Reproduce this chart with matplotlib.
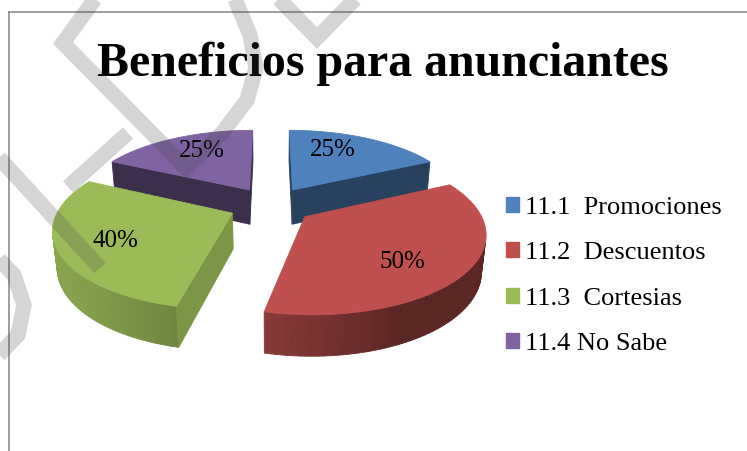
import numpy as np
import matplotlib
matplotlib.use('Agg')
import matplotlib.pyplot as plt
from matplotlib.patches import Polygon, Patch
import matplotlib.colors as mcolors

# datos del grafico
titulo = 'Beneficios para anunciantes'
categorias = ['11.1  Promociones', '11.2  Descuentos', '11.3  Cortesias', '11.4 No Sabe']
valores = [25, 50, 40, 25]
etiquetas = ['25%', '50%', '40%', '25%']
colores = ['#4F81BD', '#C0504D', '#9BBB59', '#8064A2']
k_radial = [0.50, 0.62, 0.80, 0.47]   # tono de las caras laterales rectas
giro_etq = [8, -8, 3, -4]             # ajuste angular de las etiquetas (grados)

# geometria del pastel 3D (pixeles)
cx, cy = 271, 205
R = 172.0
elev = np.radians(26)
D = 855.0
h = 40.0
expl = 42.0
fuente = 'Liberation Serif'


def proj(X, Y, Z):
  v = Y*np.sin(elev) + Z*np.cos(elev)
  w = Y*np.cos(elev) - Z*np.sin(elev)
  f = D/(D + w)
  return (cx + X*f, cy - v*f)


def area(pts):
  # area con signo, eje y hacia arriba
  p = np.array(pts)
  x, y = p[:, 0], -p[:, 1]
  return 0.5*np.sum(x*np.roll(y, -1) - np.roll(x, -1)*y)


def tono(c, k):
  r, g, b = mcolors.to_rgb(c)
  return (min(r*k, 1), min(g*k, 1), min(b*k, 1))


fig = plt.figure(figsize=(7.47, 4.51), dpi=100)
ax = fig.add_axes([0, 0, 1, 1])
ax.set_xlim(0, 747)
ax.set_ylim(451, 0)
ax.axis('off')

# marco del area de grafico
ax.plot([9, 747], [12, 12], color='#8c8c8c', lw=1.2)
ax.plot([9, 9], [12, 451], color='#8c8c8c', lw=1.2)

ax.text(383, 64, titulo, ha='center', va='center', fontsize=34.5,
        fontweight='bold', family=fuente)

total = float(sum(valores))
inicio = 90.0
porciones = []
for i, val in enumerate(valores):
  ang = 360.0*val/total
  th_hi = np.radians(inicio)
  th_lo = np.radians(inicio - ang)
  inicio -= ang
  mid = 0.5*(th_lo + th_hi)
  ox, oy = expl*np.cos(mid), expl*np.sin(mid)
  porciones.append((oy, i, th_lo, th_hi, mid, ox, oy))

# de atras hacia adelante
porciones.sort(key=lambda p: -p[0])

for _, i, th_lo, th_hi, mid, ox, oy in porciones:
  col = colores[i]
  arco = np.linspace(th_lo, th_hi, 80)
  rt = lambda a: proj(ox + R*np.cos(a), oy + R*np.sin(a), 0)
  rb = lambda a: proj(ox + R*np.cos(a), oy + R*np.sin(a), -h)
  ct = proj(ox, oy, 0)
  cb = proj(ox, oy, -h)

  caras = []
  for a, b in zip(arco[:-1], arco[1:]):
    q = [rt(a), rb(a), rb(b), rt(b)]
    phi = 0.5*(a + b)
    k = 0.47 + 0.40*max(0.0, np.cos(phi - np.radians(-155)))
    caras.append((q, tono(col, k)))
  caras.append(([ct, cb, rb(th_lo), rt(th_lo)], tono(col, k_radial[i])))
  caras.append(([ct, rt(th_hi), rb(th_hi), cb], tono(col, k_radial[i])))

  for q, c in caras:
    if area(q) > 0:
      ax.add_patch(Polygon(q, closed=True, facecolor=c, edgecolor=c, lw=0.6))

  top = [ct] + [rt(a) for a in arco]
  ax.add_patch(Polygon(top, closed=True, facecolor=col, edgecolor=col, lw=0.6))

  ae = mid + np.radians(giro_etq[i])
  lx, ly = proj(ox + 0.7*R*np.cos(ae), oy + 0.7*R*np.sin(ae), 0)
  ax.text(lx, ly, etiquetas[i], ha='center', va='center', fontsize=18,
          family=fuente, color='black')

handles = [Patch(facecolor=c, edgecolor=c) for c in colores]
ax.legend(handles, categorias, loc='center left', bbox_to_anchor=(0.645, 0.388),
          frameon=False, prop={'family': fuente, 'size': 19},
          handlelength=0.5, handleheight=0.5, handletextpad=0.25,
          labelspacing=0.89)

# marca de agua (trazos grises)
marca = [
  [(100, -8), (63, 43), (186, 168), (222, 133), (247, 100), (256, 68), (250, 35), (232, -8)],
  [(272, -8), (317, 38), (362, -8)],
  [(68, 187), (128, 133)],
  [(-8, 150), (100, 268)],
  [(-8, 252), (14, 275), (24, 305), (18, 335), (-8, 362)],
]
for tr in marca:
  xs, ys = zip(*tr)
  ax.plot(xs, ys, color='#444444', alpha=0.22, lw=11, solid_capstyle='butt',
          solid_joinstyle='miter', zorder=10)

fig.savefig('out.png', dpi=100)
